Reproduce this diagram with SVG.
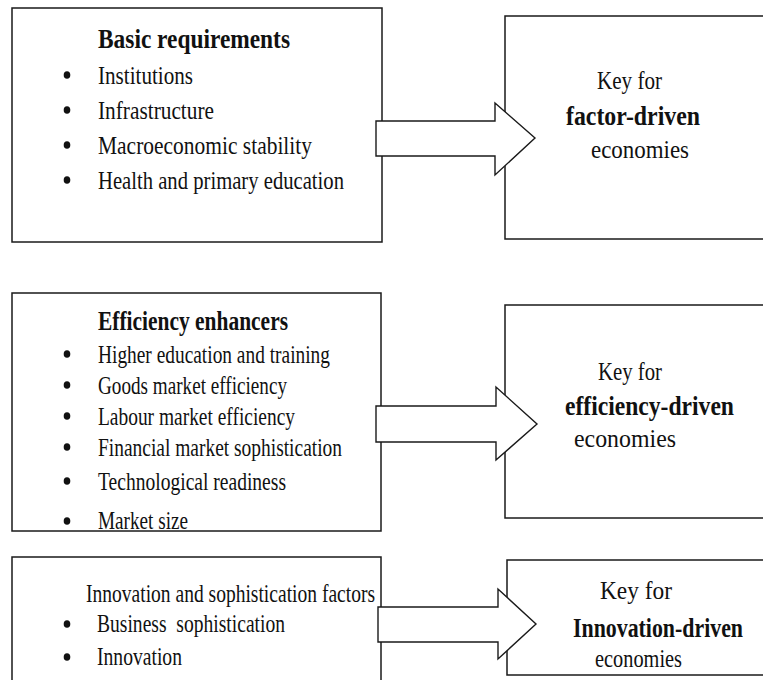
<svg xmlns="http://www.w3.org/2000/svg" width="763" height="680" viewBox="0 0 763 680">
<style>
.box{fill:#fff;stroke:#1a1a1a;stroke-width:1.5}
.arr{fill:#fff;stroke:#1a1a1a;stroke-width:1.4;stroke-linejoin:miter}
text{font-family:"Liberation Serif","Times New Roman",serif;fill:#111}
.it{font-size:26px}
.ti{font-size:28px;font-weight:bold}
.bd{font-size:27px;font-weight:bold}
.bul{fill:#111}
</style>
<rect x="0" y="0" width="763" height="680" fill="#fff"/>
<g id="basic">
<rect class="box" x="12" y="8" width="370" height="234"/>
<text class="ti" x="98" y="48" textLength="192" lengthAdjust="spacingAndGlyphs">Basic requirements</text>
<ellipse class="bul" cx="67" cy="75" rx="3.3" ry="3.8"/>
<text class="it" x="98" y="84" textLength="95" lengthAdjust="spacingAndGlyphs">Institutions</text>
<ellipse class="bul" cx="67" cy="110" rx="3.3" ry="3.8"/>
<text class="it" x="98" y="119" textLength="116" lengthAdjust="spacingAndGlyphs">Infrastructure</text>
<ellipse class="bul" cx="67" cy="145" rx="3.3" ry="3.8"/>
<text class="it" x="98" y="154" textLength="214" lengthAdjust="spacingAndGlyphs">Macroeconomic stability</text>
<ellipse class="bul" cx="67" cy="180" rx="3.3" ry="3.8"/>
<text class="it" x="98" y="189" textLength="246" lengthAdjust="spacingAndGlyphs">Health and primary education</text>
</g>
<g id="factor">
<rect class="box" x="505" y="16" width="300" height="223"/>
<text class="it" x="597" y="89" textLength="65" lengthAdjust="spacingAndGlyphs">Key for</text>
<text class="bd" x="566" y="125" textLength="134" lengthAdjust="spacingAndGlyphs">factor-driven</text>
<text class="it" x="591" y="158" textLength="98" lengthAdjust="spacingAndGlyphs">economies</text>
</g>
<g id="efficiency">
<rect class="box" x="12" y="293" width="369" height="238"/>
<text class="ti" x="98" y="330" textLength="190" lengthAdjust="spacingAndGlyphs">Efficiency enhancers</text>
<ellipse class="bul" cx="67" cy="354" rx="3.3" ry="3.8"/>
<text class="it" x="98" y="363" textLength="232" lengthAdjust="spacingAndGlyphs">Higher education and training</text>
<ellipse class="bul" cx="67" cy="385" rx="3.3" ry="3.8"/>
<text class="it" x="98" y="394" textLength="189" lengthAdjust="spacingAndGlyphs">Goods market efficiency</text>
<ellipse class="bul" cx="67" cy="416" rx="3.3" ry="3.8"/>
<text class="it" x="98" y="425" textLength="197" lengthAdjust="spacingAndGlyphs">Labour market efficiency</text>
<ellipse class="bul" cx="67" cy="447" rx="3.3" ry="3.8"/>
<text class="it" x="98" y="456" textLength="244" lengthAdjust="spacingAndGlyphs">Financial market sophistication</text>
<ellipse class="bul" cx="67" cy="481" rx="3.3" ry="3.8"/>
<text class="it" x="98" y="490" textLength="188" lengthAdjust="spacingAndGlyphs">Technological readiness</text>
<ellipse class="bul" cx="67" cy="521" rx="3.3" ry="3.8"/>
<text class="it" x="98" y="529" textLength="90" lengthAdjust="spacingAndGlyphs">Market size</text>
</g>
<g id="effdriven">
<rect class="box" x="505" y="305" width="300" height="213"/>
<text class="it" x="598" y="380" textLength="64" lengthAdjust="spacingAndGlyphs">Key for</text>
<text class="bd" x="565" y="415" textLength="169" lengthAdjust="spacingAndGlyphs">efficiency-driven</text>
<text class="it" x="574" y="447" textLength="102" lengthAdjust="spacingAndGlyphs">economies</text>
</g>
<g id="innovation">
<rect class="box" x="12" y="557" width="369" height="150"/>
<text class="it" x="86" y="602" font-size="24" textLength="289" lengthAdjust="spacingAndGlyphs">Innovation and sophistication factors</text>
<ellipse class="bul" cx="67" cy="624" rx="3.3" ry="3.8"/>
<text class="it" x="97" y="632" textLength="188" lengthAdjust="spacingAndGlyphs" xml:space="preserve">Business  sophistication</text>
<ellipse class="bul" cx="67" cy="657" rx="3.3" ry="3.8"/>
<text class="it" x="97" y="665" textLength="85" lengthAdjust="spacingAndGlyphs">Innovation</text>
</g>
<g id="innodriven">
<rect class="box" x="507" y="560" width="300" height="115"/>
<text class="it" x="600" y="599" font-size="28" textLength="72" lengthAdjust="spacingAndGlyphs">Key for</text>
<text class="bd" transform="translate(573,637) scale(0.81,1)" x="0" y="0">Innovation-driven</text>
<text class="it" x="595" y="667" font-size="23" textLength="87" lengthAdjust="spacingAndGlyphs">economies</text>
</g>
<g id="connectors">
<polygon class="arr" points="376,121 495,121 495,103 535,138 495,175 495,156 376,156"/>
<polygon class="arr" points="376,406 496,406 496,387 537,424 496,460 496,442 376,442"/>
<polygon class="arr" points="378,607 498,607 498,589 536,624 498,659 498,642 378,642"/>
</g>
</svg>
